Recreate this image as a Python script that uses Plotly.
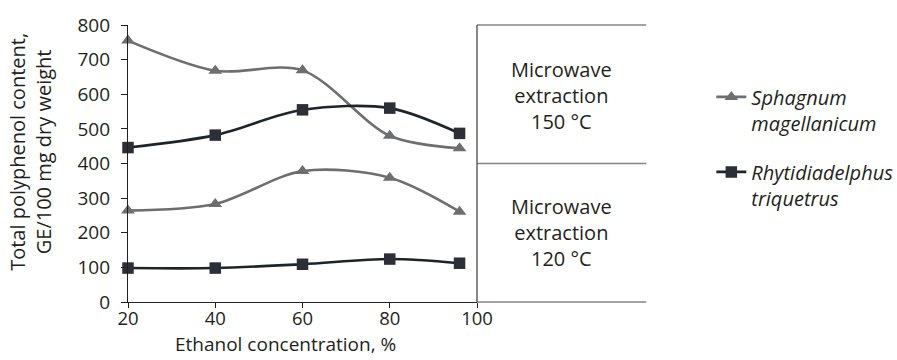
import plotly.graph_objects as go

# Ethanol concentration (%) at which extracts were made
ethanol = [20, 40, 60, 80, 96]

# Total polyphenol content, GE/100 mg dry weight
sphagnum_150 = [755, 668, 669, 480, 444]
sphagnum_120 = [264, 283, 378, 359, 261]
rhyt_150 = [446, 482, 555, 560, 487]
rhyt_120 = [98, 98, 109, 124, 112]

x_ticks = [20, 40, 60, 80, 100]
y_ticks = [0, 100, 200, 300, 400, 500, 600, 700, 800]

FONT = "Open Sans"
DARK = "#231f20"
GREY = "#6d6e70"
NAVY = "#1f232b"
TXT = 20

fig = go.Figure()

series = [
    ("<i>Sphagnum<br>magellanicum</i>", sphagnum_150, sphagnum_120, GREY, GREY, "triangle-up", 12, "s"),
    ("<i>Rhytidiadelphus<br>triquetrus</i>", rhyt_150, rhyt_120, NAVY, "#2c2f37", "square", 11.5, "r"),
]
for name, hi, lo, lc, mc, sym, ms, grp in series:
    for i, vals in enumerate([hi, lo]):
        fig.add_trace(go.Scatter(
            x=ethanol, y=vals, name=name, legendgroup=grp,
            showlegend=(i == 0),
            mode="lines+markers",
            line=dict(color=lc, width=2.6, shape="spline", smoothing=0.9),
            marker=dict(symbol=sym, size=ms, color=mc),
            cliponaxis=False,
        ))

# Frame on the right side marking the two extraction temperatures
box_right = 1.485
line_grey = "#858585"
for y0 in [1.0, 0.5, 0.0]:
    fig.add_shape(type="line", xref="paper", yref="paper",
                  x0=1.0, x1=box_right, y0=y0, y1=y0,
                  line=dict(color=line_grey, width=1.3))
fig.add_shape(type="line", xref="paper", yref="paper",
              x0=1.0, x1=1.0, y0=0, y1=1,
              line=dict(color="#4a4a4a", width=1.3))

box_mid = (1.0 + box_right) / 2
for label, yc in [("Microwave<br>extraction<br>150 °C", 0.745),
                  ("Microwave<br>extraction<br>120 °C", 0.25)]:
    fig.add_annotation(text=label, xref="paper", yref="paper",
                       x=box_mid, y=yc, showarrow=False,
                       xanchor="center", yanchor="middle",
                       font=dict(family=FONT, size=TXT, color=DARK))

# Axis titles
fig.add_annotation(text="Total polyphenol content,<br>GE/100 mg dry weight",
                   xref="paper", yref="paper", x=-0.28, y=0.543,
                   textangle=-90, showarrow=False,
                   xanchor="center", yanchor="middle",
                   font=dict(family=FONT, size=TXT, color=DARK))
fig.add_annotation(text="Ethanol concentration, %",
                   xref="paper", yref="paper", x=0.451, y=-0.2055,
                   showarrow=False, xanchor="center", yanchor="bottom",
                   font=dict(family=FONT, size=19, color=DARK))

fig.update_layout(
    width=897, height=360,
    margin=dict(l=128, r=420, t=22, b=58),
    paper_bgcolor="white", plot_bgcolor="white",
    font=dict(family=FONT, size=TXT, color=DARK),
    showlegend=True,
    legend=dict(
        xref="container", yref="container",
        x=0.793, y=0.785, xanchor="left", yanchor="top",
        valign="top", tracegroupgap=20,
        font=dict(family=FONT, size=TXT, color=DARK),
        bgcolor="rgba(0,0,0,0)",
    ),
    xaxis=dict(
        range=[20, 100], tickvals=x_ticks, ticktext=[str(v) for v in x_ticks],
        showgrid=False, zeroline=False,
        showline=True, linecolor=DARK, linewidth=1.3,
        ticks="outside", ticklen=5, tickcolor=DARK, tickwidth=1.3,
        ticklabelstandoff=-5,
        tickfont=dict(family=FONT, size=18.5, color=DARK),
    ),
    yaxis=dict(
        range=[0, 800], tickvals=y_ticks, ticktext=[str(v) for v in y_ticks],
        showgrid=False, zeroline=False,
        showline=True, linecolor=DARK, linewidth=1.3,
        ticks="outside", ticklen=6, tickcolor=DARK, tickwidth=1.3,
        ticklabelstandoff=7,
        tickfont=dict(family=FONT, size=19, color=DARK),
    ),
)

fig.write_html("out.html")
